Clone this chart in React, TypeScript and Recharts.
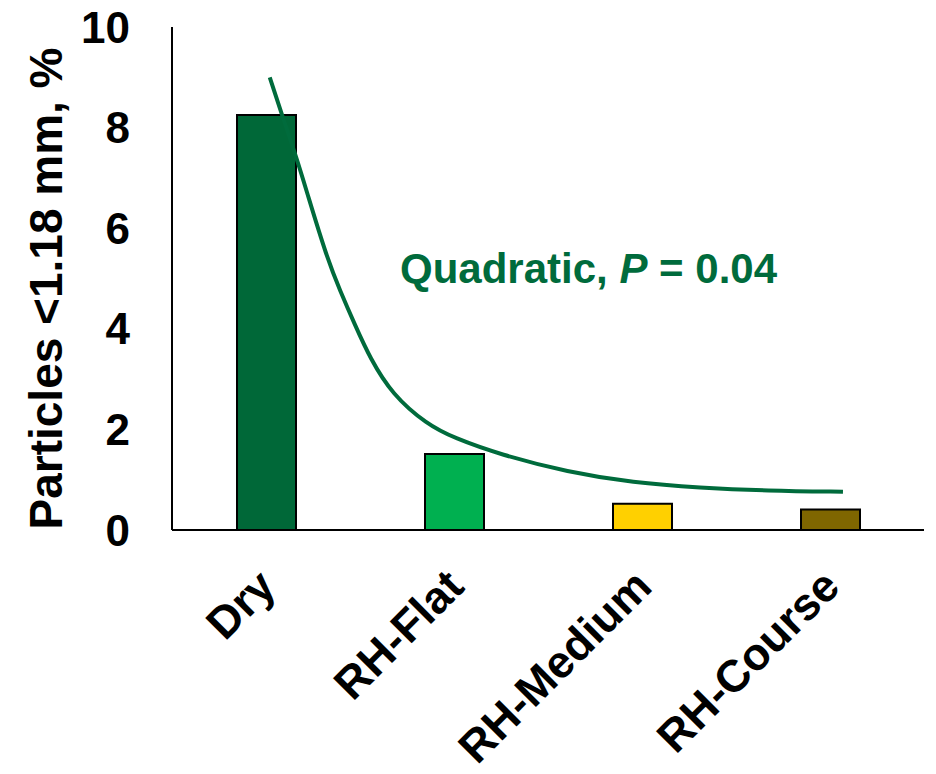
import React from "react";
import { ComposedChart, Bar, Line, XAxis, YAxis, Cell } from "recharts";

// categories and measured values
const categories = ["Dry", "RH-Flat", "RH-Medium", "RH-Course"];
const particles = [8.25, 1.51, 0.52, 0.41];
const barColors = ["#006838", "#00B050", "#FFD000", "#7F6600"];
const yTicks = [0, 2, 4, 6, 8, 10];

// fitted curve (x = category position, Dry = 0)
const fitX = [0.02, 0.085, 0.165, 0.218, 0.325, 0.394, 0.473, 0.553, 0.67, 0.856, 1.0, 1.245, 1.606, 1.952, 2.309, 2.665, 3.069];
const fitY = [9.0, 8.25, 7.37, 6.71, 5.4, 4.76, 4.08, 3.42, 2.7, 2.1, 1.83, 1.5, 1.15, 0.94, 0.84, 0.78, 0.76];

const rows = categories.map((name, i) => ({ name, value: particles[i] }));
const curve = fitX.map((x, i) => ({ x, y: fitY[i] }));

const FONT = "'Liberation Sans', Arial, sans-serif";
const GREEN = "#006B3C";

const XTick = (props: any) => {
  const { x, y, payload } = props;
  return (
    <g transform={`translate(${x + 12},${y + 59})`}>
      <text
        transform="rotate(-45)"
        textAnchor="end"
        fontFamily={FONT}
        fontWeight="bold"
        fontSize={45}
        fill="#000"
      >
        {payload.value}
      </text>
    </g>
  );
};

const YTitle = (props: any) => {
  const { viewBox } = props;
  const cx = 62;
  const cy = viewBox.y + viewBox.height / 2 + 10;
  return (
    <text
      x={cx}
      y={cy}
      transform={`rotate(-90, ${cx}, ${cy})`}
      textAnchor="middle"
      fontFamily={FONT}
      fontWeight="bold"
      fontSize={46}
      fill="#000"
    >
      Particles &lt;1.18 mm, %
    </text>
  );
};

export default function App() {
  return (
    <div style={{ position: "absolute", left: 0, top: 0, width: 936, height: 774, background: "#fff" }}>
      <ComposedChart
        width={936}
        height={774}
        data={rows}
        margin={{ top: 27, right: 12, left: 0, bottom: 0 }}
      >
        <XAxis
          dataKey="name"
          height={244}
          tickLine={false}
          tickSize={0}
          tickMargin={0}
          interval={0}
          axisLine={{ stroke: "#000", strokeWidth: 2 }}
          tick={<XTick />}
        />
        <XAxis xAxisId="fit" type="number" dataKey="x" domain={[-0.5, 3.5]} hide />
        <YAxis
          width={172}
          domain={[0, 10]}
          ticks={yTicks}
          tickLine={false}
          tickSize={0}
          tickMargin={42}
          axisLine={{ stroke: "#000", strokeWidth: 2 }}
          tick={{ fill: "#000", fontFamily: FONT, fontWeight: "bold", fontSize: 44 }}
          label={<YTitle />}
        />
        <Bar dataKey="value" barSize={59} stroke="#000" strokeWidth={2} isAnimationActive={false}>
          {rows.map((r, i) => (
            <Cell key={r.name} fill={barColors[i]} />
          ))}
        </Bar>
        <Line
          xAxisId="fit"
          data={curve}
          dataKey="y"
          type="basis"
          stroke={GREEN}
          strokeWidth={4}
          dot={false}
          activeDot={false}
          isAnimationActive={false}
        />
      </ComposedChart>
      <div
        style={{
          position: "absolute",
          left: 400,
          top: 244,
          fontFamily: FONT,
          fontWeight: "bold",
          fontSize: 42,
          color: GREEN,
          whiteSpace: "nowrap",
          lineHeight: "50px",
        }}
      >
        Quadratic, <i>P</i> = 0.04
      </div>
    </div>
  );
}
